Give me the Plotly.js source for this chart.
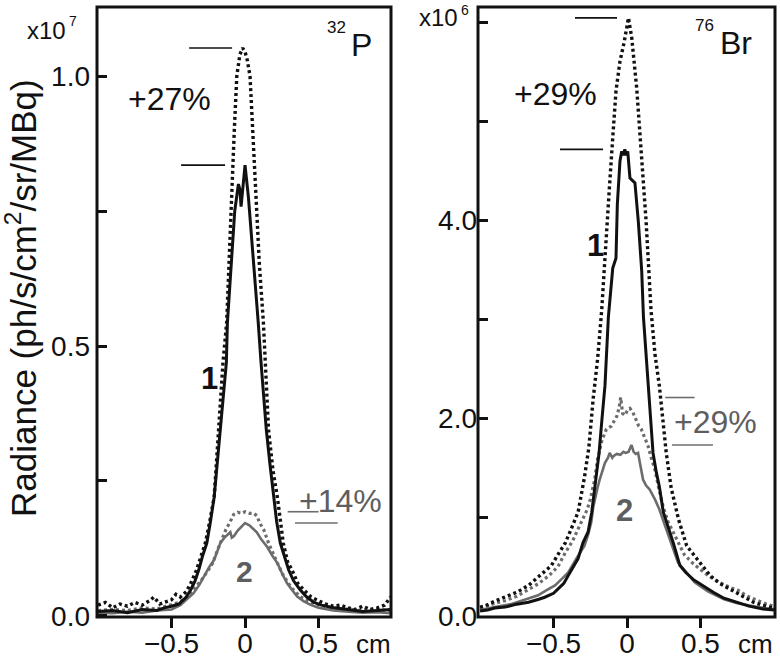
<!DOCTYPE html>
<html>
<head>
<meta charset="utf-8">
<script src="https://cdn.plot.ly/plotly-3.0.1.min.js"></script>
<style>html,body{margin:0;padding:0;background:#fff;}#chart{width:780px;height:658px;}</style>
</head>
<body>
<div id="chart"></div>
<script>
// ---------- 32P panel (values in units of 1e7) ----------
const p32Dot1X = [-1.0,-0.95,-0.9,-0.85,-0.8,-0.75,-0.7,-0.65,-0.62,-0.58,-0.55,-0.5,-0.47,-0.44,-0.4,-0.37,-0.33,-0.3,-0.27,-0.24,-0.21,-0.18,-0.15,-0.125,-0.107,-0.091,-0.073,-0.056,-0.035,-0.016,0.0,0.015,0.034,0.052,0.075,0.097,0.125,0.138,0.16,0.19,0.22,0.26,0.29,0.32,0.36,0.40,0.45,0.5,0.55,0.6,0.65,0.7,0.75,0.8,0.85,0.9,0.95,0.99];
const p32Dot1Y = [0.02,0.025,0.015,0.022,0.018,0.025,0.02,0.028,0.035,0.022,0.025,0.03,0.04,0.035,0.045,0.06,0.085,0.11,0.135,0.175,0.22,0.344,0.469,0.543,0.654,0.776,0.90,1.0,1.04,1.052,1.045,1.03,1.0,0.90,0.776,0.654,0.543,0.469,0.344,0.27,0.22,0.135,0.10,0.085,0.06,0.048,0.035,0.028,0.022,0.018,0.02,0.015,0.012,0.018,0.012,0.015,0.02,0.035];

const p32Sol1X = [-1.0,-0.9,-0.8,-0.7,-0.6,-0.55,-0.5,-0.45,-0.4,-0.37,-0.34,-0.315,-0.29,-0.26,-0.235,-0.21,-0.19,-0.168,-0.145,-0.127,-0.12,-0.095,-0.07,-0.045,-0.035,-0.027,-0.015,0.0,0.023,0.045,0.061,0.09,0.109,0.125,0.145,0.17,0.195,0.215,0.24,0.27,0.297,0.33,0.376,0.42,0.47,0.52,0.6,0.7,0.8,0.9,0.99];
const p32Sol1Y = [0.008,0.01,0.006,0.012,0.01,0.015,0.018,0.022,0.035,0.048,0.065,0.085,0.11,0.135,0.175,0.22,0.28,0.344,0.41,0.469,0.543,0.654,0.75,0.80,0.79,0.758,0.80,0.835,0.776,0.70,0.654,0.543,0.469,0.41,0.344,0.28,0.22,0.175,0.135,0.11,0.085,0.065,0.048,0.035,0.025,0.02,0.015,0.012,0.008,0.01,0.012];

const p32Dot2X = [-1.0,-0.9,-0.8,-0.7,-0.6,-0.5,-0.45,-0.4,-0.35,-0.3,-0.25,-0.22,-0.19,-0.16,-0.13,-0.1,-0.077,-0.05,-0.02,0.0,0.03,0.06,0.082,0.1,0.127,0.16,0.19,0.22,0.26,0.3,0.33,0.38,0.45,0.5,0.6,0.7,0.8,0.9,0.99];
const p32Dot2Y = [0.01,0.012,0.01,0.015,0.013,0.02,0.025,0.033,0.048,0.065,0.085,0.098,0.12,0.14,0.16,0.175,0.188,0.192,0.19,0.193,0.19,0.19,0.185,0.172,0.16,0.135,0.115,0.098,0.075,0.058,0.048,0.035,0.025,0.02,0.015,0.012,0.01,0.012,0.01];

const p32Sol2X = [-1.0,-0.9,-0.8,-0.7,-0.6,-0.5,-0.44,-0.4,-0.35,-0.31,-0.28,-0.245,-0.21,-0.19,-0.168,-0.14,-0.115,-0.1,-0.09,-0.075,-0.05,-0.025,0.0,0.03,0.055,0.08,0.11,0.15,0.185,0.22,0.25,0.285,0.32,0.355,0.4,0.45,0.5,0.6,0.7,0.8,0.9,0.99];
const p32Sol2Y = [0.006,0.005,0.008,0.006,0.01,0.012,0.02,0.03,0.042,0.058,0.073,0.09,0.104,0.12,0.135,0.145,0.152,0.155,0.145,0.148,0.158,0.165,0.172,0.168,0.162,0.155,0.142,0.128,0.112,0.098,0.08,0.061,0.048,0.036,0.027,0.02,0.015,0.01,0.008,0.006,0.007,0.005];

// ---------- 76Br panel (values in units of 1e6) ----------
const br76Dot1X = [-1.0,-0.97,-0.9,-0.83,-0.75,-0.67,-0.6,-0.55,-0.515,-0.47,-0.42,-0.38,-0.333,-0.29,-0.26,-0.23,-0.2,-0.172,-0.143,-0.12,-0.097,-0.075,-0.048,-0.02,0.01,0.032,0.066,0.1,0.13,0.163,0.19,0.22,0.245,0.267,0.3,0.35,0.406,0.474,0.565,0.63,0.7,0.78,0.86,0.92,0.97,1.0];
const br76Dot1Y = [0.09,0.10,0.15,0.19,0.24,0.31,0.40,0.47,0.51,0.62,0.74,0.88,1.05,1.4,1.7,2.2,2.6,3.1,3.83,4.33,4.84,5.31,5.61,5.8,6.05,5.85,5.34,4.67,3.99,3.1,2.65,2.33,2.0,1.65,1.3,0.98,0.71,0.58,0.41,0.33,0.27,0.2,0.14,0.11,0.09,0.08];

const br76Sol1X = [-1.0,-0.95,-0.9,-0.83,-0.75,-0.67,-0.6,-0.56,-0.5,-0.47,-0.43,-0.4,-0.37,-0.333,-0.3,-0.265,-0.24,-0.22,-0.19,-0.17,-0.15,-0.127,-0.118,-0.097,-0.075,-0.066,-0.048,-0.036,-0.025,-0.015,-0.005,0.005,0.02,0.054,0.077,0.1,0.112,0.143,0.177,0.2,0.22,0.247,0.28,0.315,0.36,0.4,0.45,0.52,0.587,0.66,0.746,0.83,0.925,1.0];
const br76Sol1Y = [0.05,0.06,0.08,0.09,0.12,0.14,0.17,0.19,0.23,0.27,0.33,0.41,0.49,0.58,0.74,0.85,1.05,1.31,1.65,2.0,2.33,3.02,3.2,3.52,3.62,4.16,4.6,4.70,4.66,4.72,4.66,4.70,4.43,4.38,3.99,3.49,3.02,2.33,1.65,1.45,1.31,1.05,0.9,0.74,0.51,0.44,0.37,0.3,0.24,0.18,0.14,0.1,0.07,0.06];

const br76Dot2X = [-1.0,-0.97,-0.9,-0.83,-0.75,-0.67,-0.6,-0.53,-0.47,-0.42,-0.37,-0.333,-0.3,-0.27,-0.25,-0.22,-0.2,-0.17,-0.14,-0.107,-0.085,-0.07,-0.055,-0.043,-0.03,-0.015,0.007,0.02,0.04,0.06,0.08,0.097,0.12,0.143,0.165,0.19,0.215,0.245,0.28,0.338,0.39,0.45,0.5,0.56,0.63,0.7,0.755,0.82,0.9,0.95,1.0];
const br76Dot2Y = [0.08,0.09,0.13,0.155,0.2,0.27,0.33,0.41,0.5,0.64,0.76,0.88,0.98,1.08,1.18,1.38,1.59,1.78,1.89,1.92,1.98,2.02,2.1,2.21,2.05,2.03,2.09,2.1,2.06,1.98,1.92,1.89,1.8,1.72,1.6,1.48,1.3,1.11,0.95,0.78,0.62,0.53,0.47,0.4,0.34,0.29,0.26,0.2,0.15,0.12,0.10];

const br76Sol2X = [-1.0,-0.97,-0.9,-0.79,-0.7,-0.605,-0.55,-0.49,-0.44,-0.4,-0.345,-0.29,-0.265,-0.243,-0.23,-0.21,-0.2,-0.186,-0.17,-0.15,-0.13,-0.118,-0.1,-0.09,-0.07,-0.045,-0.025,-0.01,0.01,0.03,0.045,0.06,0.075,0.09,0.109,0.13,0.154,0.19,0.22,0.25,0.29,0.32,0.347,0.4,0.46,0.55,0.66,0.75,0.85,0.93,1.0];
const br76Sol2Y = [0.06,0.07,0.09,0.12,0.16,0.21,0.26,0.31,0.38,0.44,0.58,0.71,0.82,0.95,1.1,1.26,1.3,1.38,1.45,1.55,1.6,1.65,1.6,1.62,1.64,1.63,1.66,1.65,1.66,1.73,1.66,1.64,1.65,1.52,1.38,1.32,1.28,1.18,1.08,0.95,0.78,0.65,0.54,0.45,0.34,0.25,0.17,0.13,0.1,0.08,0.07];

// tick labels
const p32TickVals = [0, 0.5, 1.0];
const p32TickText = ['0.0', '0.5', '1.0'];
const br76TickVals = [0, 2, 4];
const br76TickText = ['0.0', '2.0', '4.0'];
const xTickVals = [-0.5, 0, 0.5];
const xTickText = ['\u22120.5', '0', '0.5'];

// ---------- drawing ----------
const W = 780, H = 658;
const px = x => x / W;
const py = y => 1 - y / H;
const BLACK = '#111111', GRAY = '#6c6c6c', GRAYTXT = '#5e5e5e';
const FONT = 'Liberation Sans, Arial, Helvetica, sans-serif';
const DOT = '3px,3px';

function tr(x, y, color, dash, xa, ya, w) {
  return {x: x, y: y, type: 'scatter', mode: 'lines', xaxis: xa, yaxis: ya,
          line: {color: color, width: w, dash: dash}, hoverinfo: 'skip', showlegend: false};
}
const data = [
  tr(p32Sol2X, p32Sol2Y, GRAY, 'solid', 'x', 'y', 2.6),
  tr(p32Dot2X, p32Dot2Y, GRAY, DOT, 'x', 'y', 3.2),
  tr(p32Sol1X, p32Sol1Y, BLACK, 'solid', 'x', 'y', 3),
  tr(p32Dot1X, p32Dot1Y, BLACK, DOT, 'x', 'y', 3.4),
  tr(br76Sol2X, br76Sol2Y, GRAY, 'solid', 'x2', 'y2', 2.6),
  tr(br76Dot2X, br76Dot2Y, GRAY, DOT, 'x2', 'y2', 3.2),
  tr(br76Sol1X, br76Sol1Y, BLACK, 'solid', 'x2', 'y2', 3),
  tr(br76Dot1X, br76Dot1Y, BLACK, DOT, 'x2', 'y2', 3.4)
];

const mx = a => Math.max.apply(null, a);
function peakLine(xr, yr, x0, x1, y, color) {
  return {type: 'line', xref: xr, yref: yr, x0: x0, x1: x1, y0: y, y1: y,
          line: {color: color, width: 1.6}};
}
function frame(xr, yr) {
  return {type: 'rect', xref: xr + ' domain', yref: yr + ' domain', x0: 0, x1: 1, y0: 0, y1: 1,
          line: {color: BLACK, width: 3}, fillcolor: 'rgba(0,0,0,0)', layer: 'above'};
}
const shapes = [
  frame('x', 'y'), frame('x2', 'y2'),
  peakLine('x', 'y', -0.38, -0.088, mx(p32Dot1Y), BLACK),
  peakLine('x', 'y', -0.435, -0.136, mx(p32Sol1Y), BLACK),
  peakLine('x', 'y', 0.29, 0.50, mx(p32Dot2Y), GRAY),
  peakLine('x', 'y', 0.34, 0.63, mx(p32Sol2Y), GRAY),
  peakLine('x2', 'y2', -0.354, -0.068, mx(br76Dot1Y), BLACK),
  peakLine('x2', 'y2', -0.456, -0.163, mx(br76Sol1Y), BLACK),
  peakLine('x2', 'y2', 0.26, 0.46, mx(br76Dot2Y), GRAY),
  peakLine('x2', 'y2', 0.306, 0.585, mx(br76Sol2Y), GRAY)
];

function ann(text, x, y, size, color, opts) {
  return Object.assign({text: text, xref: 'paper', yref: 'paper', x: px(x), y: py(y),
    xanchor: 'center', yanchor: 'middle', showarrow: false,
    font: {family: FONT, size: size, color: color}}, opts || {});
}
const annotations = [
  ann('Radiance (ph/s/cm<sup>2</sup>/sr/MBq)', 21, 298, 35, BLACK, {textangle: -90}),
  ann('x10', 46, 30, 24, BLACK),
  ann('7', 67, 21, 14, BLACK, {xanchor: 'left'}),
  ann('x10', 438, 18, 24, BLACK),
  ann('6', 459, 10, 14, BLACK, {xanchor: 'left'}),
  ann('32', 336, 27, 17, BLACK),
  ann('P', 361, 45, 32, BLACK),
  ann('76', 704, 25, 17, BLACK),
  ann('Br', 736, 43, 32, BLACK),
  ann('+27%', 169, 99, 32, BLACK),
  ann('+29%', 555, 94, 32, BLACK),
  ann('<b>1</b>', 209, 378, 31, BLACK),
  ann('<b>2</b>', 244, 571, 30, GRAYTXT),
  ann('<b>1</b>', 595, 245, 31, BLACK),
  ann('<b>2</b>', 624, 511, 31, GRAYTXT),
  ann('+14%', 340, 501, 32, GRAYTXT),
  ann('+29%', 715, 422, 32, GRAYTXT),
  ann('cm', 373, 644, 26, BLACK),
  ann('cm', 755, 644, 26, BLACK)
];

const axBase = {showline: false, showgrid: false, zeroline: false, tickcolor: BLACK, tickwidth: 3, ticklen: 10,
  tickfont: {family: FONT, size: 28, color: BLACK}, fixedrange: true};

const yDom = [41 / H, 651 / H];
const layout = {
  width: W, height: H, margin: {l: 0, r: 0, t: 0, b: 0},
  paper_bgcolor: '#fff', plot_bgcolor: '#fff', showlegend: false,
  xaxis: Object.assign({}, axBase, {domain: [97 / W, 391 / W], range: [-1.007, 0.993], anchor: 'y',
    ticks: 'outside', tickmode: 'array', tickvals: xTickVals, ticktext: xTickText, ticklabelstandoff: -9}),
  yaxis: Object.assign({}, axBase, {domain: yDom, range: [-0.002, 1.128], anchor: 'x',
    ticks: 'inside', tickmode: 'array', tickvals: p32TickVals, ticktext: p32TickText, ticklabelstandoff: 6,
    minor: {ticks: 'inside', ticklen: 10, tickwidth: 3, tickcolor: BLACK, tick0: 0, dtick: 0.25, showgrid: false}}),
  xaxis2: Object.assign({}, axBase, {domain: [478 / W, 775 / W], range: [-1.014, 1.007], anchor: 'y2',
    ticks: 'outside', tickmode: 'array', tickvals: xTickVals, ticktext: xTickText, ticklabelstandoff: -9}),
  yaxis2: Object.assign({}, axBase, {domain: yDom, range: [-0.01, 6.16], anchor: 'x2',
    ticks: 'inside', tickmode: 'array', tickvals: br76TickVals, ticktext: br76TickText,
    minor: {ticks: 'inside', ticklen: 10, tickwidth: 3, tickcolor: BLACK, tick0: 0, dtick: 1, showgrid: false}}),
  shapes: shapes,
  annotations: annotations
};

Plotly.newPlot('chart', data, layout, {staticPlot: true, displayModeBar: false});
</script>
</body>
</html>
